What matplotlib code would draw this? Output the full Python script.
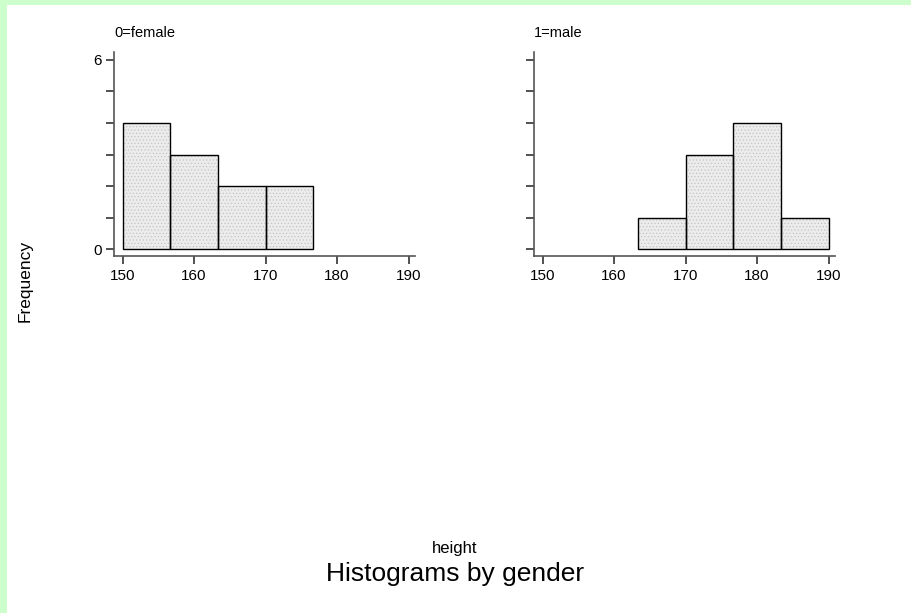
import numpy as np
import matplotlib
matplotlib.use("Agg")
import matplotlib.pyplot as plt
from matplotlib.patches import Rectangle

# Data
bin_edges = [150, 156.667, 163.333, 170, 176.667, 183.333, 190]
female_counts = [4, 3, 2, 2, 0, 0]
male_counts = [0, 0, 1, 3, 4, 1]
panel_titles = ["0=female", "1=male"]
x_ticks = [150, 160, 170, 180, 190]

plt.rcParams['font.family'] = ['Liberation Sans', 'DejaVu Sans']
plt.rcParams['hatch.linewidth'] = 0.5

W, H = 911, 613
fig = plt.figure(figsize=(W / 100, H / 100), dpi=100, facecolor='#ccffcc')
# white page inside the green frame (green only on left and top)
page = Rectangle((7 / W, 0), 1, 1 - 5 / H, transform=fig.transFigure,
                 facecolor='white', edgecolor='none', zorder=-10)
fig.add_artist(page)

axes_px = [(114, 52, 415, 256), (534, 52, 835, 256)]

for (x0, y0, x1, y1), counts, title in zip(axes_px, [female_counts, male_counts], panel_titles):
    ax = fig.add_axes([x0 / W, 1 - y1 / H, (x1 - x0) / W, (y1 - y0) / H])
    ax.set_facecolor('none')
    lefts = np.array(bin_edges[:-1])
    widths = np.diff(bin_edges)
    c = np.array(counts)
    m = c > 0
    ax.bar(lefts[m], c[m], width=widths[m], align='edge', color='#ececec',
           hatch='.....', edgecolor='#c4c4c4', linewidth=0)
    ax.bar(lefts[m], c[m], width=widths[m], align='edge', fill=False,
           edgecolor='black', linewidth=1.0)
    ax.set_xlim(148.8, 190.9)
    ax.set_ylim(-0.21, 6.25)
    ax.set_xticks(x_ticks)
    ax.set_yticks(range(7))
    ax.set_yticklabels(['0', '', '', '', '', '', '6'] if title == "0=female" else [''] * 7)
    for s in ['top', 'right']:
        ax.spines[s].set_visible(False)
    for s in ['left', 'bottom']:
        ax.spines[s].set_color('#555555')
        ax.spines[s].set_linewidth(1.2)
    ax.tick_params(direction='out', length=6, width=1.2, color='#333333',
                   labelsize=11, pad=3)
    ax.text(0, 1.06, title, transform=ax.transAxes, fontsize=10.5, ha='left', va='bottom')

fig.text(25 / W, 1 - 281 / H, "Frequency", rotation=90, ha='center', va='center', fontsize=12.5)
fig.text(455 / W, 1 - 549 / H, "height", ha='center', va='center', fontsize=12)
fig.text(455 / W, 1 - 574 / H, "Histograms by gender", ha='center', va='center', fontsize=19)

fig.savefig("out.png", dpi=100, facecolor=fig.get_facecolor())
